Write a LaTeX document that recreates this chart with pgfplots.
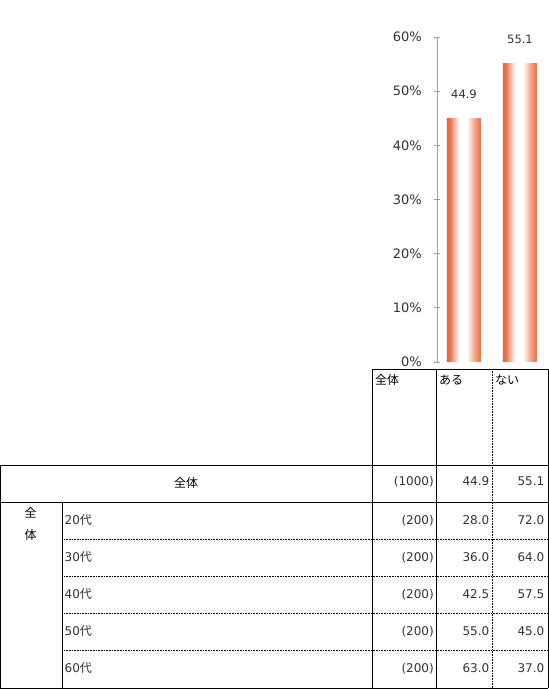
\documentclass[border=0pt]{standalone}
\usepackage{fontspec}
\setmainfont{DejaVu Sans}
\newfontfamily\jp{Noto Sans CJK JP}
\usepackage{pgfplots}
\pgfplotsset{compat=1.18}

\definecolor{barL}{RGB}{232,100,60}
\definecolor{barR}{RGB}{236,120,80}
\definecolor{txt}{RGB}{51,51,51}
\definecolor{axisgray}{RGB}{160,160,160}

\pgfdeclarehorizontalshading{barshade}{100bp}{%
  color(0bp)=(barL); color(25bp)=(barL); color(29bp)=(barL!90!white);
  color(43bp)=(white); color(54bp)=(white);
  color(70bp)=(barR!90!white); color(75bp)=(barR); color(100bp)=(barR)}

\newcommand{\numfont}{\fontsize{12}{14}\selectfont}
\newcommand{\jpfont}{\jp\fontsize{12}{14}\selectfont}

\begin{document}
\begin{tikzpicture}[x=1pt,y=1pt]
\useasboundingbox (0,0) rectangle (549,689);

% bar chart (top right)
\begin{axis}[
    at={(437pt,327pt)}, anchor=south west,
    scale only axis,
    width=112pt, height=325pt,
    xmin=-0.482, xmax=1.518,
    ymin=0, ymax=60,
    axis y line*=left,
    axis x line=none,
    y axis line style={draw=axisgray, line width=0.8pt},
    ytick={0,10,...,60},
    yticklabel={\pgfmathprintnumber{\tick}\%},
    /pgf/number format/assume math mode=true,
    yticklabel style={font=\fontsize{13}{15}\selectfont, text=txt,
                      anchor=east, inner sep=0pt, xshift=-12pt},
    tick align=center,
    major tick length=6pt,
    major tick style={draw=axisgray, line width=0.8pt},
    clip=false,
    nodes near coords,
    every node near coord/.append style={font=\fontsize{11.5}{13}\selectfont,
        text=txt, anchor=south, inner sep=0pt, yshift=20pt},
]
\addplot[ybar, bar width=34pt, bar shift=0pt, draw=none, shading=barshade]
    coordinates {(0,44.9)};
\addplot[ybar, bar width=34pt, bar shift=0pt, draw=none, shading=barshade]
    coordinates {(1,55.1)};
\end{axis}

% table (pixel coordinates, y downwards)
\begin{scope}[shift={(0pt,689pt)}, y=-1pt]
  \begin{scope}[line width=0.8pt, draw=black]
    \draw (372,369) -- (548,369);
    \draw (0,465.3) -- (548,465.3);
    \draw (0,502) -- (548,502);
    \draw (0,688) -- (548,688);
    \draw (0.5,465.3) -- (0.5,688);
    \draw (62.3,502) -- (62.3,688);
    \draw (372,369) -- (372,688);
    \draw (436.5,369) -- (436.5,688);
    \draw (548,369) -- (548,688);
  \end{scope}
  \begin{scope}[line width=0.6pt, dash pattern=on 0.8pt off 0.8pt]
    \draw (492.7,369) -- (492.7,688);
    \foreach \yy in {539.3,576.3,613.7,650.7}
      \draw (62.3,\yy) -- (548,\yy);
  \end{scope}

  % header
  \node[anchor=base west, inner sep=0pt, font=\jpfont] at (375,384.5) {全体};
  \node[anchor=base west, inner sep=0pt, font=\jpfont] at (439,384.5) {ある};
  \node[anchor=base west, inner sep=0pt, font=\jpfont] at (495,384.5) {ない};

  % total row
  \node[anchor=base, inner sep=0pt, font=\jpfont] at (186,487.5) {全体};
  \node[anchor=base east, inner sep=0pt, font=\numfont, text=txt] at (434,485.4) {(1000)};
  \node[anchor=base east, inner sep=0pt, font=\numfont, text=txt] at (489.5,485.4) {44.9};
  \node[anchor=base east, inner sep=0pt, font=\numfont, text=txt] at (544.5,485.4) {55.1};

  % side label
  \node[anchor=base, inner sep=0pt, font=\jpfont] at (30.5,517.5) {全};
  \node[anchor=base, inner sep=0pt, font=\jpfont] at (30.5,539.5) {体};

  % age rows
  \foreach \yc/\ag/\n/\a/\b in {520.5/20/200/28.0/72.0, 557.5/30/200/36.0/64.0,
        594.5/40/200/42.5/57.5, 631.5/50/200/55.0/45.0, 668/60/200/63.0/37.0} {
    \node[anchor=base west, inner sep=0pt, text=txt] at (64.5,\yc+4.4)
        {\numfont\ag{\jpfont 代}};
    \node[anchor=base east, inner sep=0pt, font=\numfont, text=txt] at (434,\yc+4.4) {(\n)};
    \node[anchor=base east, inner sep=0pt, font=\numfont, text=txt] at (489.5,\yc+4.4) {\a};
    \node[anchor=base east, inner sep=0pt, font=\numfont, text=txt] at (544.5,\yc+4.4) {\b};
  }
\end{scope}
\end{tikzpicture}
\end{document}
